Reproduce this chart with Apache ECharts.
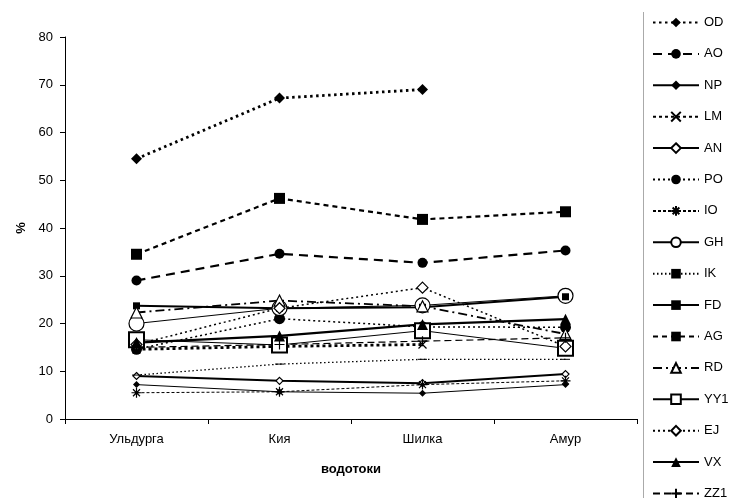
<!DOCTYPE html>
<html><head><meta charset="utf-8">
<script src="https://cdn.jsdelivr.net/npm/echarts@6/dist/echarts.min.js"></script>
<style>html,body{margin:0;padding:0;background:#fff}#c{width:732px;height:498px}</style>
</head><body><div id="c"></div>
<script>
var categories = ['Ульдурга', 'Кия', 'Шилка', 'Амур'];
var yTicks = [0, 10, 20, 30, 40, 50, 60, 70, 80];
var OD  = [54.5, 67.2, 69.0, null];
var AO  = [29.0, 34.6, 32.7, 35.3];
var NP  = [7.2, 5.7, 5.4, 7.2];
var LM  = [14.6, 15.2, 15.6, null];
var AN  = [9.0, 8.0, 7.5, 9.4];
var PO  = [14.6, 21.0, 19.3, 19.2];
var IO  = [5.5, 5.7, 7.2, 8.0];
var GH  = [20.0, 23.2, 23.8, 25.8];
var IK  = [9.2, 11.5, 12.5, 12.5];
var FD  = [23.7, 23.2, 23.4, 25.6];
var AG  = [34.5, 46.2, 41.8, 43.4];
var RD  = [22.3, 24.8, 23.6, 17.8];
var YY1 = [16.6, 15.5, 18.5, 14.8];
var EJ  = [15.6, 23.2, 27.5, 15.2];
var VX  = [16.0, 17.4, 19.8, 20.9];
var ZZ1 = [15.0, 15.6, 16.3, 17.0];

var XPATH = 'path://M0,0L10,10M10,0L0,10';
var STAR = 'path://M0,5L10,5M5,0L5,10M1.5,1.5L8.5,8.5M8.5,1.5L1.5,8.5';
var PLUS = 'path://M0,5L10,5M5,0L5,10';
var DASH = 'path://M0,0L9,0L9,3L0,3Z';

function s(name, data, o) {
  return {
    name: name, type: 'line', data: data, z: o.z || 2,
    symbol: o.symbol, symbolSize: o.size, symbolKeepAspect: !!o.keep,
    lineStyle: { color: '#000', width: o.w, type: o.dash || 'solid', cap: 'butt' },
    itemStyle: { color: o.open ? '#fff' : '#000', borderColor: '#000', borderWidth: o.bw || (o.open ? 1.2 : 0) },
    emphasis: { disabled: true }, animation: false
  };
}
var series = [
  s('OD', OD, {symbol: 'diamond', size: 11, w: 2.8, dash: [2.5, 3.5]}),
  s('AO', AO, {symbol: 'circle', size: 10, w: 2.2, dash: [9, 6]}),
  s('NP', NP, {symbol: 'diamond', size: 7, w: 1}),
  s('LM', LM, {symbol: XPATH, size: 8, w: 2.8, dash: [3, 3], bw: 1.2}),
  s('AN', AN, {symbol: 'diamond', size: 7, w: 2, open: true}),
  s('PO', PO, {symbol: 'circle', size: 11, w: 1.5, dash: [2, 3]}),
  s('IO', IO, {symbol: STAR, size: 10, w: 1, dash: [3, 2], bw: 1.2}),
  s('GH', GH, {symbol: 'circle', size: 15, w: 1, open: true}),
  s('IK', IK, {symbol: DASH, size: [9, 3], keep: true, w: 1.3, dash: [1.5, 2.5]}),
  s('FD', FD, {symbol: 'rect', size: 7, w: 2}),
  s('AG', AG, {symbol: 'rect', size: 11, w: 2.2, dash: [5, 4]}),
  s('RD', RD, {symbol: 'triangle', size: 11, w: 1.8, dash: [9, 4, 2, 4], open: true}),
  s('YY1', YY1, {symbol: 'rect', size: 15, w: 1, open: true, bw: 2}),
  s('EJ', EJ, {symbol: 'diamond', size: 11, w: 1.5, dash: [2, 3], open: true}),
  s('VX', VX, {symbol: 'triangle', size: 11, w: 2.2}),
  s('ZZ1', ZZ1, {symbol: PLUS, size: 10, w: 1.2, dash: [7, 4], bw: 1.2})
];

var chart = echarts.init(document.getElementById('c'), null, {renderer: 'canvas'});
chart.setOption({
  backgroundColor: '#fff',
  animation: false,
  grid: { left: 65, right: 95, top: 37, bottom: 79, containLabel: false },
  xAxis: {
    type: 'category', data: categories, boundaryGap: true,
    name: 'водотоки', nameLocation: 'middle', nameGap: 44,
    nameTextStyle: { fontFamily: 'Liberation Sans', fontSize: 13, fontWeight: 'bold', color: '#000' },
    axisLine: { lineStyle: { color: '#000', width: 1 } },
    axisTick: { show: true, length: 5, lineStyle: { color: '#000' } },
    axisLabel: { fontFamily: 'Liberation Sans', fontSize: 13, color: '#000', margin: 14 },
    splitLine: { show: false }
  },
  yAxis: {
    type: 'value', min: yTicks[0], max: yTicks[yTicks.length - 1], interval: 10,
    name: '%', nameLocation: 'middle', nameGap: 30, nameRotate: 90,
    nameTextStyle: { fontFamily: 'Liberation Sans', fontSize: 13, fontWeight: 'bold', color: '#000' },
    axisLine: { show: true, lineStyle: { color: '#000', width: 1 } },
    axisTick: { show: true, length: 5, lineStyle: { color: '#000' } },
    axisLabel: { fontFamily: 'Liberation Sans', fontSize: 13, color: '#000', margin: 12 },
    splitLine: { show: false }
  },
  legend: {
    orient: 'vertical', left: 652, top: 16, height: 600, padding: 0,
    itemWidth: 46, itemHeight: 12, itemGap: 18.4,
    textStyle: { fontFamily: 'Liberation Sans', fontSize: 13, color: '#000' },
    data: series.map(function (x) { return x.name; }),
    selectedMode: false
  },
  graphic: [{
    type: 'line', shape: { x1: 643.5, y1: 12, x2: 643.5, y2: 498 },
    style: { stroke: '#aaa', lineWidth: 1 }, silent: true
  }],
  series: series
});
</script></body></html>
